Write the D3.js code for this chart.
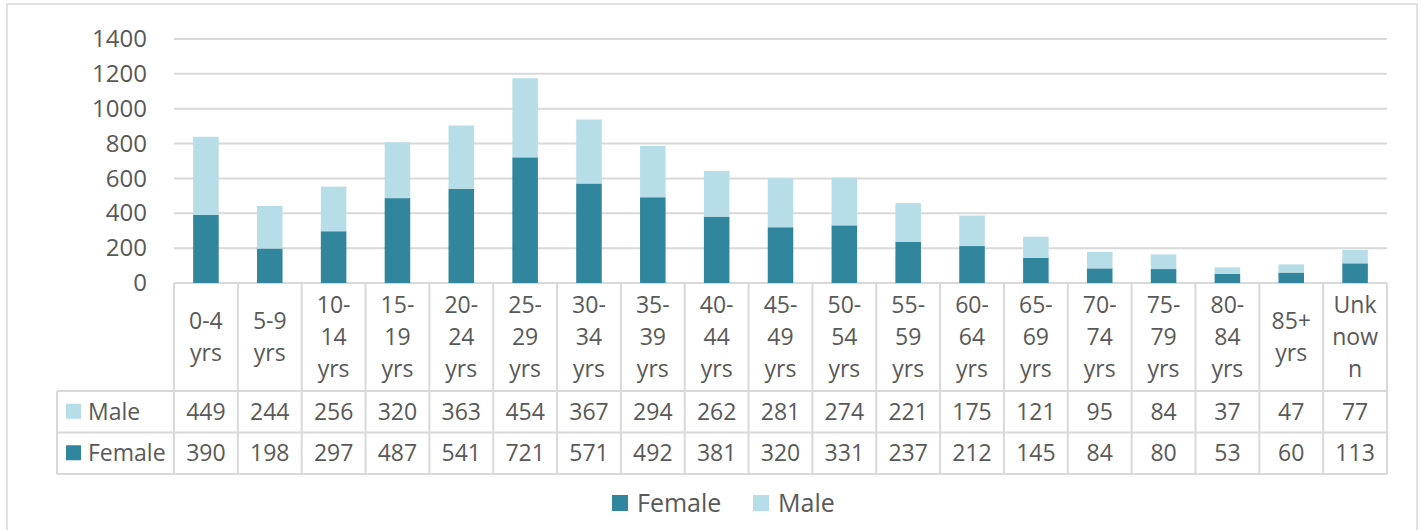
<!DOCTYPE html>
<html>
<head>
<meta charset="utf-8">
<script src="https://cdn.jsdelivr.net/npm/d3@7"></script>
<style>
  body { margin: 0; background: #fff; }
  svg text { font-family: "Open Sans", sans-serif; fill: #595959; }
</style>
</head>
<body>
<svg id="chart" width="1424" height="530"></svg>
<script>
// Age groups, one array of wrapped lines per column
const ageGroups = [
    ["0-4", "yrs"], ["5-9", "yrs"], ["10-", "14", "yrs"], ["15-", "19", "yrs"],
    ["20-", "24", "yrs"], ["25-", "29", "yrs"], ["30-", "34", "yrs"], ["35-", "39", "yrs"],
    ["40-", "44", "yrs"], ["45-", "49", "yrs"], ["50-", "54", "yrs"], ["55-", "59", "yrs"],
    ["60-", "64", "yrs"], ["65-", "69", "yrs"], ["70-", "74", "yrs"], ["75-", "79", "yrs"],
    ["80-", "84", "yrs"], ["85+", "yrs"], ["Unk", "now", "n"]
];
const female = [390, 198, 297, 487, 541, 721, 571, 492, 381, 320, 331, 237, 212, 145, 84, 80, 53, 60, 113];
const male = [449, 244, 256, 320, 363, 454, 367, 294, 262, 281, 274, 221, 175, 121, 95, 84, 37, 47, 77];
const yTicks = [0, 200, 400, 600, 800, 1000, 1200, 1400];

const COLORS = { Female: "#31859C", Male: "#B7DEE8" };
const GRID = "#d9d9d9";

const chart = {
    left: 174, right: 1387, top: 39, bottom: 283,
    tableLeft: 57, headerBottom: 391, rowH: 41.5,
    fontSize: 23,
};

const svg = d3.select("#chart");

// Outer chart border
svg.append("rect")
    .attr("x", 7).attr("y", 4)
    .attr("width", 1410).attr("height", 540)
    .attr("fill", "none").attr("stroke", GRID).attr("stroke-width", 1.5);

const x = d3.scaleBand()
    .domain(d3.range(ageGroups.length))
    .range([chart.left, chart.right])
    .paddingInner(0).paddingOuter(0);
const y = d3.scaleLinear().domain([0, 1400]).range([chart.bottom, chart.top]);

// Gridlines
svg.append("g")
    .selectAll("line")
    .data(yTicks)
    .join("line")
    .attr("x1", chart.left).attr("x2", chart.right)
    .attr("y1", (d) => y(d)).attr("y2", (d) => y(d))
    .attr("stroke", GRID).attr("stroke-width", 2);

// Y axis labels
const yAxis = svg.append("g")
    .attr("transform", `translate(${chart.left - 27},0)`)
    .call(d3.axisLeft(y).tickValues(yTicks).tickFormat(d3.format("d")).tickSize(0).tickPadding(0));
yAxis.select(".domain").remove();
yAxis.selectAll("text")
    .style("font-family", "'Open Sans', sans-serif")
    .attr("font-size", 24)
    .attr("fill", "#595959");

// Stacked bars
const rows = ageGroups.map((g, i) => ({ i, Female: female[i], Male: male[i] }));
const stack = d3.stack().keys(["Female", "Male"])(rows);
const barW = x.bandwidth() * 0.4;

svg.append("g")
    .selectAll("g")
    .data(stack)
    .join("g")
    .attr("fill", (s) => COLORS[s.key])
    .selectAll("rect")
    .data((s) => s)
    .join("rect")
    .attr("x", (d) => x(d.data.i) + (x.bandwidth() - barW) / 2)
    .attr("width", barW)
    .attr("y", (d) => y(d[1]))
    .attr("height", (d) => y(d[0]) - y(d[1]));

// Data table
const table = svg.append("g");
const tableBottom = chart.headerBottom + 2 * chart.rowH;

// horizontal lines
[chart.headerBottom, chart.headerBottom + chart.rowH, tableBottom].forEach((yy) => {
    table.append("line")
        .attr("x1", chart.tableLeft).attr("x2", chart.right)
        .attr("y1", yy).attr("y2", yy)
        .attr("stroke", GRID).attr("stroke-width", 2);
});
// vertical lines
const bounds = d3.range(ageGroups.length + 1).map((i) => chart.left + i * x.step());
table.selectAll("line.v")
    .data(bounds)
    .join("line")
    .attr("class", "v")
    .attr("x1", (d) => d).attr("x2", (d) => d)
    .attr("y1", chart.bottom).attr("y2", tableBottom)
    .attr("stroke", GRID).attr("stroke-width", 2);
table.append("line")
    .attr("x1", chart.tableLeft).attr("x2", chart.tableLeft)
    .attr("y1", chart.headerBottom).attr("y2", tableBottom)
    .attr("stroke", GRID).attr("stroke-width", 2);

// header labels
const lineH = 32;
const headerMid = (chart.bottom + chart.headerBottom) / 2;
table.selectAll("text.cat")
    .data(ageGroups)
    .join("text")
    .attr("class", "cat")
    .attr("text-anchor", "middle")
    .attr("font-size", chart.fontSize)
    .each(function (lines, i) {
        const t = d3.select(this);
        const cx = x(i) + x.bandwidth() / 2;
        const startY = headerMid - ((lines.length - 1) * lineH) / 2;
        lines.forEach((ln, k) => {
            t.append("tspan")
                .attr("x", cx)
                .attr("y", startY + k * lineH)
                .attr("dy", "0.35em")
                .text(ln);
        });
    });

// series rows
const series = [
    { key: "Male", values: male },
    { key: "Female", values: female },
];
series.forEach((s, r) => {
    const cy = chart.headerBottom + chart.rowH * (r + 0.5);
    table.append("rect")
        .attr("x", 66).attr("y", cy - 8)
        .attr("width", 15).attr("height", 15)
        .attr("fill", COLORS[s.key]);
    table.append("text")
        .attr("x", 88).attr("y", cy)
        .attr("dy", "0.35em")
        .attr("font-size", chart.fontSize)
        .text(s.key);
    table.selectAll(null)
        .data(s.values)
        .join("text")
        .attr("x", (d, i) => x(i) + x.bandwidth() / 2)
        .attr("y", cy)
        .attr("dy", "0.35em")
        .attr("text-anchor", "middle")
        .attr("font-size", chart.fontSize)
        .text((d) => d);
});

// Legend
const legendItems = [
    { key: "Female", x: 612 },
    { key: "Male", x: 753 },
];
const legend = svg.append("g");
legendItems.forEach((it) => {
    legend.append("rect")
        .attr("x", it.x).attr("y", 495)
        .attr("width", 16).attr("height", 16)
        .attr("fill", COLORS[it.key]);
    legend.append("text")
        .attr("x", it.x + 25).attr("y", 503)
        .attr("dy", "0.35em")
        .attr("font-size", 25)
        .text(it.key);
});
</script>
</body>
</html>
